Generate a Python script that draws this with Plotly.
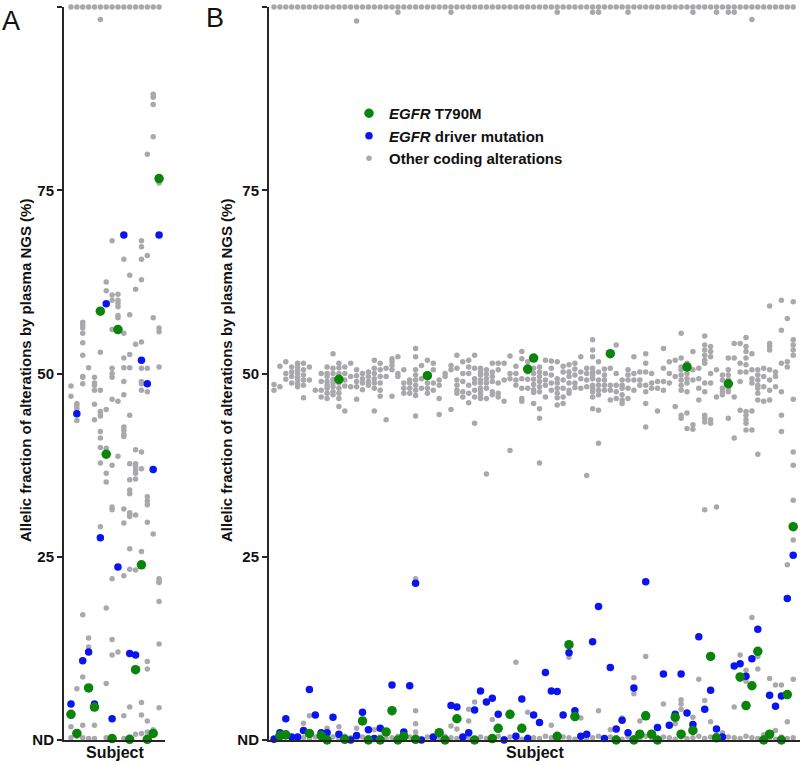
import plotly.graph_objects as go

FONT = "Liberation Sans, Arial, sans-serif"
GREY = "#a9a9ad"
BLUE = "#0a14f0"
GREEN = "#0b840b"
AXIS = "#262626"

# ---------------- Panel A : 16 subjects ----------------
a_subjects = [1, 2, 3, 4, 5, 6, 7, 8, 9, 10, 11, 12, 13, 14, 15, 16]
a_t790m = [3.5, 0.9, None, 7.1, 4.5, 58.5, 39.0, 0.2, 56.0, None, 0.1, 9.6, 23.9, 0.1, 0.9, 76.6]
a_driver = [4.9, 44.5, 10.8, 12.0, 4.9, 27.6, 59.5, 2.9, 23.6, 68.9, 11.8, 11.6, 51.8, 48.6, 36.9, 68.9]
a_other_top = [100, 100, 100, 100, 100, 100, 100, 100, 100, 100, 100, 100, 100, 100, 100, 100]
a_other = [
    [48.3, 46.9, 1.8, 0.3],
    [45.9, 45.6, 45.2, 43.6, 7.0, 0.5],
    [57.0, 56.6, 56.2, 55.5, 54.2, 52.5, 49.6, 49.5, 48.6, 17.1, 8.6, 2.0, 0.3],
    [50.8, 13.9, 12.7, 0.2],
    [49.5, 48.7, 48.4, 47.7, 45.8, 43.7, 2.0, 0.2],
    [98.3, 52.9, 47.7, 44.8, 44.6, 44.2, 42.1, 41.2, 39.9, 37.8, 29.1],
    [62.5, 61.3, 45.1, 39.8, 36.4, 35.2, 18.0, 7.7, 0.3],
    [68.1, 60.7, 60.0, 56.0, 50.7, 50.0, 49.5, 46.5, 37.5, 31.8, 31.4, 22.0, 13.7, 11.6],
    [60.8, 60.0, 59.6, 59.1, 57.9, 57.6, 46.2, 38.7, 12.0],
    [65.6, 55.5, 52.1, 50.8, 48.9, 47.1, 42.7, 42.3, 41.7, 41.4, 31.5, 29.6, 22.4, 3.3, 0.2],
    [63.4, 58.0, 52.6, 50.8, 44.3, 37.7, 35.5, 34.1, 33.6, 31.0, 30.7, 30.5, 26.1, 23.3, 4.5],
    [61.5, 54.0, 39.6, 37.7, 37.3, 36.8, 36.4, 35.6, 30.7, 23.2, 0.8],
    [68.1, 67.3, 65.6, 62.8, 54.3, 50.7, 48.9, 48.6, 47.7, 39.3, 37.0, 25.7, 5.1, 3.4, 0.9],
    [79.9, 66.1, 50.7, 47.5, 33.2, 32.6, 32.1, 29.7, 10.7, 9.7, 2.6, 1.1],
    [88.1, 87.7, 86.7, 82.3, 57.6, 28.1, 1.4],
    [76.0, 56.2, 55.7, 50.9, 22.0, 21.7, 21.5, 18.9, 13.1, 4.4],
]

# ---------------- Panel B : 89 subjects ----------------
b_driver_subj = [1, 2, 3, 4, 5, 6, 7, 8, 9, 10, 11, 12, 14, 15, 16, 17, 18, 19, 21, 23, 24, 25, 26, 28,
                 31, 32, 33, 34, 35, 36, 37, 38, 39, 40, 42, 43, 44, 45, 46, 47, 48, 49, 50, 51, 52, 53,
                 54, 55, 56, 57, 58, 59, 60, 61, 62, 64, 66, 67, 68, 69, 70, 71, 72, 73, 74, 75, 76, 77,
                 79, 80, 81, 82, 83, 85, 86, 87, 88, 89]
b_driver_val = [0.1, 1.0, 2.9, 0.4, 0.4, 1.3, 6.9, 3.4, 1.0, 1.0, 3.1, 0.8, 0.0, 0.6, 3.8, 1.4, 0.2, 1.6, 7.5, 1.1, 7.4, 21.4, 0.0, 0.4,
                4.7, 4.5, 0.4, 1.0, 4.1, 6.7, 5.2, 5.7, 3.5, 0.0, 0.5, 5.6, 0.2, 3.4, 2.4, 9.2, 6.7, 6.6, 3.4, 11.9, 4.0, 0.5,
                0.8, 13.4, 18.2, 0.2, 9.9, 1.5, 2.7, 1.0, 7.1, 21.6, 1.7, 9.0, 2.0, 3.5, 9.0, 3.7, 2.1, 14.1, 4.2, 6.8, 1.5, 0.4,
                10.1, 10.4, 8.7, 11.1, 15.1, 6.1, 4.6, 6.0, 19.3, 25.2]

b_t790m_subj = [2, 3, 7, 9, 10, 12, 13, 16, 17, 19, 20, 21, 22, 23, 25, 27, 29, 30, 32, 35, 38, 39, 41, 43,
                44, 45, 49, 51, 52, 58, 59, 62, 63, 64, 65, 66, 69, 70, 71, 72, 75, 76, 78, 80, 81, 82,
                83, 84, 85, 87, 88, 89]
b_t790m_val = [0.6, 0.7, 0.9, 0.6, 0.0, 49.2, 0.1, 2.6, 0.0, 0.0, 1.1, 4.0, 0.0, 0.5, 0.1, 49.7, 1.0, 0.0, 2.9, 0.0, 0.2, 1.6, 3.5, 1.6,
               50.6, 52.1, 0.5, 13.0, 3.2, 52.7, 0.0, 0.0, 0.8, 3.3, 0.8, 0.0, 3.1, 0.8, 50.9, 1.3, 11.4, 0.3, 48.6, 8.6, 4.7, 7.4,
               12.1, 0.0, 0.8, 0.0, 6.2, 29.1]

b_other_top = [100, 100, 100, 100, 100, 100, 100, 100, 100, 100, 100, 100, 100, 100, 100, 100, 100, 100,
               100, 100, 100, 100, 100, 100, 100, 100, 100, 100, 100, 100, 100, 100, 100, 100, 100, 100,
               100, 100, 100, 100, 100, 100, 100, 100, 100, 100, 100, 100, 100, 100, 100, 100, 100, 100,
               100, 100, 100, 100, 100, 100, 100, 100, 100, 100, 100, 100, 100, 100, 100, 100, 100, 100,
               100, 100, 100, 100, 100, 100, 100, 100, 100, 100, 100, 100, 100, 100, 100, 100, 100]
b_top_extra_subj = [15, 22, 31, 49, 55, 56, 61, 72, 76, 78, 79, 82]
b_top_extra_val = [98.1, 99.3, 99.3, 99.3, 99.3, 99.3, 99.3, 99.3, 99.3, 99.3, 99.3, 98.3]

b_other_mid = [
    [47.7, 48.5], [51.0, 48.2], [51.6, 50.0, 49.2], [50.9, 50.2, 49.6, 48.7],
    [51.4, 50.9, 50.4, 50.0, 49.5, 49.1, 48.6, 48.2], [51.4, 50.5, 49.8, 49.1, 48.4, 46.7],
    [50.9, 49.1], [47.7], [50.0, 48.9, 47.7, 46.8],
    [50.9, 50.0, 49.6, 48.9, 48.4, 48.0, 47.3, 46.6],
    [52.7, 50.7, 50.0, 49.2, 48.7, 48.2, 47.5, 47.1],
    [51.4, 50.8, 50.0, 48.7, 48.0, 47.3, 46.6, 45.5],
    [50.9, 50.0, 49.1, 48.3, 44.9], [51.4, 49.6, 48.2], [50.5, 49.7, 48.9, 48.2, 46.5],
    [50.0, 49.3, 48.7, 47.8], [50.2, 49.6, 48.9, 48.4],
    [51.8, 50.7, 50.0, 49.3, 48.7, 48.0, 44.9], [51.4, 50.5, 49.6, 48.7, 47.7, 46.9],
    [50.7, 49.6, 43.7], [52.0, 51.6, 51.1, 50.5, 46.9], [52.3, 50.0, 49.6],
    [50.5, 48.7, 48.0, 47.3], [49.1, 48.7, 48.0, 47.3],
    [53.4, 52.3, 50.5, 49.8, 49.1, 48.4, 47.7, 47.0, 44.2], [51.1, 49.3, 48.0],
    [51.8, 50.0, 48.7, 48.0, 47.3], [51.4, 50.5, 48.7, 47.7], [49.1, 48.4, 46.6, 44.4],
    [50.0, 49.6], [51.1, 50.5, 45.1], [52.5, 50.7, 49.1, 48.4, 47.7, 47.3],
    [51.6, 50.0, 48.9, 47.5, 46.8], [51.8, 50.9, 50.0, 48.4, 47.3, 46.0],
    [52.5, 50.7, 49.3, 48.7, 47.7, 46.8, 43.2],
    [50.7, 50.2, 49.8, 49.1, 48.7, 48.0, 47.5, 47.1, 46.6],
    [50.5, 49.9, 49.3, 48.7, 48.0, 46.6, 36.3], [51.4, 50.2, 49.6, 48.9, 47.5, 47.1],
    [51.4, 50.5, 48.7, 47.3, 46.8], [51.4, 49.1, 46.2], [52.4, 50.0, 49.3, 39.5],
    [51.0, 50.0, 49.1, 48.4], [53.0, 52.0, 49.3, 48.0, 46.6, 46.2], [51.6, 50.2, 49.2, 48.0],
    [50.7, 50.0, 49.2, 48.5, 47.8, 47.4, 45.9],
    [50.9, 50.2, 49.6, 48.9, 48.2, 47.5, 45.2, 43.9, 37.8],
    [51.8, 50.0, 49.1, 48.4, 46.8], [51.7, 50.7, 49.8, 48.7, 47.7],
    [51.6, 49.3, 48.7, 48.0, 47.3, 46.7, 45.7], [51.0, 50.2, 49.1, 48.0, 46.8, 45.9],
    [51.2, 50.2, 49.6, 48.7, 47.7, 47.3], [51.4, 50.6, 49.8, 48.7, 48.1],
    [52.3, 50.2, 49.3, 48.0], [50.7, 50.0, 49.1, 48.2, 36.1],
    [54.6, 53.2, 52.3, 50.7, 50.2, 49.8, 49.3, 48.4, 48.0, 47.5, 46.8, 45.2],
    [51.6, 50.2, 49.1, 48.4, 47.7, 47.1, 45.0, 40.5], [50.6, 49.8, 49.1, 48.4, 47.7],
    [50.7, 48.4, 47.7, 46.4], [53.9, 50.0, 48.4, 47.5, 46.6],
    [49.1, 48.4, 48.0, 47.1, 46.4, 45.9], [50.5, 49.8, 49.1, 48.0, 46.6],
    [52.3, 50.0, 49.1, 47.7], [50.2, 49.1, 48.4],
    [52.7, 51.4, 50.2, 48.4, 47.5, 45.9, 42.7], [50.0, 48.7, 48.0], [48.9, 48.0, 44.9],
    [53.4, 50.7, 48.9, 47.7], [51.6, 50.0, 48.7], [51.8, 49.6, 45.5],
    [55.5, 52.1, 50.9, 50.5, 49.8, 49.1, 48.4, 47.7, 44.3, 43.9],
    [51.4, 50.0, 49.3, 48.7, 47.5, 44.6, 42.5], [53.0, 50.5, 49.1, 43.0, 42.4],
    [50.7, 49.3, 48.0, 46.4],
    [55.1, 53.9, 53.2, 52.5, 51.8, 51.4, 48.7, 47.5, 44.3, 43.9, 43.4],
    [53.7, 53.0, 52.3, 50.0, 48.7, 43.7, 43.2], [50.5, 46.8],
    [49.8, 49.1, 48.0, 47.5, 47.1], [52.1, 50.5, 49.8, 49.1, 48.0, 47.5, 43.9],
    [54.1, 52.1, 46.8, 41.2], [54.1, 51.4, 50.2, 48.9, 45.0],
    [54.9, 53.7, 53.0, 52.1, 51.2, 50.2, 44.8, 44.3, 43.7, 43.2, 42.3],
    [52.7, 50.5, 49.3, 48.7, 44.9, 42.3],
    [50.5, 49.8, 49.1, 48.4, 48.0, 47.3, 46.4, 39.0], [50.7, 49.6, 48.2, 46.2],
    [59.2, 54.1, 53.7, 53.2, 50.5, 49.1, 47.7, 46.4], [50.2, 49.6, 48.2],
    [60.0, 55.9, 51.4, 47.5, 44.3, 42.1], [57.5, 51.6, 50.9],
    [59.8, 54.6, 53.9, 53.2, 52.5, 46.5, 39.3, 37.5],
]

b_low_subj = [6, 7, 10, 12, 15, 18, 20, 25, 25, 25, 25, 31, 32, 34, 34, 35, 38, 42, 44, 48, 51, 53, 56, 58,
              60, 62, 62, 63, 64, 64, 67, 69, 70, 70, 70, 72, 73, 74, 74, 75, 76, 77, 79, 80, 80, 81, 81,
              82, 83, 83, 84, 85, 86, 86, 87, 88, 88, 89, 89, 89]
b_low_val = [2.3, 3.3, 1.6, 1.8, 1.6, 1.4, 0.9, 22.0, 4.0, 2.2, 1.1, 1.9, 1.5, 2.6, 4.2, 5.2, 2.8, 10.6, 3.8, 2.0, 11.3, 3.0, 4.0, 1.4,
             3.0, 8.5, 6.3, 2.6, 11.4, 3.6, 4.9, 2.2, 5.5, 4.9, 4.2, 3.1, 8.3, 5.4, 31.4, 2.5, 31.8, 1.0, 4.5, 11.6, 8.3, 9.5, 8.0,
             16.7, 11.4, 9.7, 0.7, 8.4, 7.5, 1.3, 7.5, 2.5, 23.9, 8.3, 27.3, 32.7]

b_other_base = [0.3, 0.2, 0.4, 0.1, 0.5, 0.3, 0.2, 0.4, 0.3, 0.1, 0.4, 0.2, 0.5, 0.3, 0.2, 0.4, 0.3, 0.1,
                0.4, 0.2, 0.3, 0.5, 0.2, 0.4, 0.3, 0.1, 0.4, 0.3, 0.2, 0.5, 0.3, 0.2, 0.4, 0.3, 0.1, 0.4,
                0.2, 0.3, 0.5, 0.2, 0.4, 0.3, 0.1, 0.4, 0.3, 0.2, 0.5, 0.3, 0.2, 0.4, 0.3, 0.1, 0.4, 0.2,
                0.3, 0.5, 0.2, 0.4, 0.3, 0.1, 0.4, 0.3, 0.2, 0.5, 0.3, 0.2, 0.4, 0.3, 0.1, 0.4, 0.2, 0.3,
                0.5, 0.2, 0.4, 0.3, 0.1, 0.4, 0.3, 0.2, 0.5, 0.3, 0.2, 0.4, 0.3, 0.1, 0.4, 0.2, 0.3]

# ---------------- assemble ----------------
def flatten(nested):
    xs, ys = [], []
    for i, vals in enumerate(nested, start=1):
        for v in vals:
            xs.append(i)
            ys.append(v)
    return xs, ys

b_subjects = list(range(1, len(b_other_top) + 1))

a_mx, a_my = flatten(a_other)
a_grey_x = a_subjects + a_mx
a_grey_y = a_other_top + a_my

b_mx, b_my = flatten(b_other_mid)
b_grey_x = b_subjects + b_top_extra_subj + b_mx + b_low_subj + b_subjects
b_grey_y = b_other_top + b_top_extra_val + b_my + b_low_val + b_other_base

a_g = [(s, v) for s, v in zip(a_subjects, a_t790m) if v is not None]
a_gx = [p[0] for p in a_g]
a_gy = [p[1] for p in a_g]

fig = go.Figure()

def add(x, y, color, size, name, xa, ya, show, rank):
    fig.add_trace(go.Scatter(
        x=x, y=y, mode="markers", name=name, xaxis=xa, yaxis=ya,
        marker=dict(color=color, size=size, line=dict(width=0)),
        showlegend=show, legendrank=rank, cliponaxis=False, hoverinfo="skip"))

LBL_T = "<b><i>EGFR</i> T790M</b>"
LBL_D = "<b><i>EGFR</i> driver mutation</b>"
LBL_O = "<b>Other coding alterations</b>"

add(a_grey_x, a_grey_y, GREY, 5.5, LBL_O, "x", "y", False, 3)
add(a_subjects, a_driver, BLUE, 7.5, LBL_D, "x", "y", False, 2)
add(a_gx, a_gy, GREEN, 9.5, LBL_T, "x", "y", False, 1)

add(b_grey_x, b_grey_y, GREY, 5.5, LBL_O, "x2", "y2", True, 3)
add(b_driver_subj, b_driver_val, BLUE, 7.5, LBL_D, "x2", "y2", True, 2)
add(b_t790m_subj, b_t790m_val, GREEN, 9.5, LBL_T, "x2", "y2", True, 1)

W, H = 800, 765
ML, MR, MT, MB = 64, 0, 7, 25
PW = W - ML - MR
PH = H - MT - MB

def px_x(px):
    return (px - ML) / PW

def px_y(py):
    return (H - MB - py) / PH

tickfont = dict(family=FONT, size=15, color="#111111", weight="bold")
yax = dict(range=[0, 100], tickvals=[0, 25, 50, 75, 100], ticktext=["ND", "25", "50", "75", "100"],
           ticks="outside", ticklen=5, tickwidth=2, tickcolor=AXIS, showline=True, linewidth=2,
           linecolor=AXIS, showgrid=False, zeroline=False, tickfont=tickfont, fixedrange=True,
           automargin=False)
xax = dict(showline=True, linewidth=2, linecolor=AXIS, showgrid=False, zeroline=False,
           showticklabels=False, ticks="", fixedrange=True, automargin=False)

fig.update_layout(
    width=W, height=H,
    margin=dict(l=ML, r=MR, t=MT, b=MB, autoexpand=False),
    paper_bgcolor="white", plot_bgcolor="white",
    font=dict(family=FONT, color="#111111"),
    xaxis=dict(domain=[0, px_x(165)], range=[-0.19, 17.01], anchor="y", **xax),
    xaxis2=dict(domain=[px_x(269), 1], range=[0.153, 90.15], anchor="y2", **xax),
    yaxis=dict(domain=[0, 1], anchor="x", **yax),
    yaxis2=dict(domain=[0, 1], anchor="x2", **yax),
    legend=dict(x=px_x(349), y=px_y(97), xanchor="left", yanchor="top",
                bgcolor="rgba(0,0,0,0)", font=dict(family=FONT, size=15, color="#111111"),
                itemsizing="trace"),
    showlegend=True,
)

ann = []
ytitle = "Allelic fraction of alterations by plasma NGS (%)"
for xc in (25, 226):
    ann.append(dict(text="<b>" + ytitle + "</b>", x=px_x(xc), y=px_y(371), xref="paper", yref="paper",
                    textangle=-90, showarrow=False, xanchor="center", yanchor="middle",
                    font=dict(family=FONT, size=15, color="#111111")))
for xc in (114.5, 534.5):
    ann.append(dict(text="<b>Subject</b>", x=px_x(xc), y=px_y(752), xref="paper", yref="paper",
                    showarrow=False, xanchor="center", yanchor="middle",
                    font=dict(family=FONT, size=16, color="#111111")))
ann.append(dict(text="A", x=px_x(0), y=px_y(4), xref="paper", yref="paper", showarrow=False,
                xanchor="left", yanchor="top", font=dict(family=FONT, size=27, color="#111111")))
ann.append(dict(text="B", x=px_x(204), y=px_y(1), xref="paper", yref="paper", showarrow=False,
                xanchor="left", yanchor="top", font=dict(family=FONT, size=27, color="#111111")))
fig.update_layout(annotations=ann)

fig.write_html("out.html", config={"displayModeBar": False},
               post_script="document.body.style.margin='0';document.body.style.overflow='hidden';")
